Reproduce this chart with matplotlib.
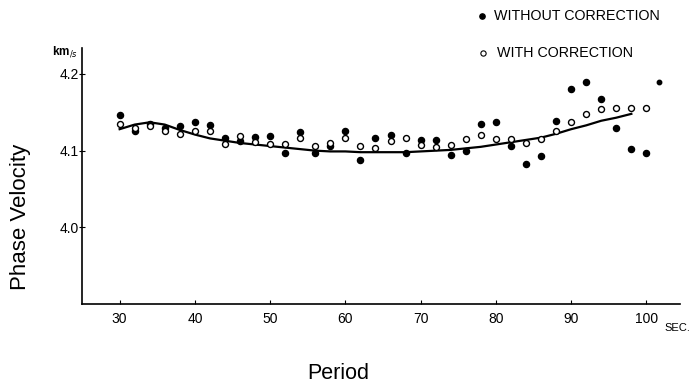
"""
Phase velocity vs period, with and without correction
"""

import matplotlib
matplotlib.use("Agg")
import matplotlib.pyplot as plt

plt.rcParams["font.family"] = ["Liberation Sans", "DejaVu Sans"]

# ── data ─────────────────────────────────────────────────────
period = [30, 32, 34, 36, 38, 40, 42, 44, 46, 48, 50, 52, 54, 56, 58, 60, 62, 64,
          66, 68, 70, 72, 74, 76, 78, 80, 82, 84, 86, 88, 90, 92, 94, 96, 98, 100]

v_without = [4.146, 4.126, 4.135, 4.130, 4.132, 4.137, 4.133, 4.116, 4.113, 4.118,
             4.119, 4.097, 4.124, 4.097, 4.106, 4.125, 4.088, 4.117, 4.121, 4.097,
             4.114, 4.114, 4.094, 4.100, 4.135, 4.138, 4.106, 4.083, 4.093, 4.139,
             4.181, 4.190, 4.168, 4.130, 4.102, 4.097]
extra_period = [101.7]
extra_without = [4.189]

v_with = [4.135, 4.130, 4.132, 4.126, 4.122, 4.126, 4.125, 4.109, 4.119, 4.111,
          4.109, 4.109, 4.116, 4.106, 4.110, 4.117, 4.106, 4.103, 4.112, 4.117,
          4.108, 4.105, 4.107, 4.115, 4.120, 4.115, 4.115, 4.110, 4.115, 4.126,
          4.138, 4.148, 4.154, 4.155, 4.155, 4.155]

curve_period = period[:35]
curve_v = [4.128, 4.134, 4.137, 4.134, 4.127, 4.121, 4.116, 4.113, 4.110, 4.108,
           4.106, 4.104, 4.102, 4.100, 4.099, 4.099, 4.098, 4.098, 4.098, 4.098,
           4.099, 4.100, 4.101, 4.103, 4.105, 4.108, 4.111, 4.114, 4.117, 4.122,
           4.128, 4.133, 4.139, 4.143, 4.148]

x_ticks = [30, 40, 50, 60, 70, 80, 90, 100]
y_ticks = [4.0, 4.1, 4.2]
y_ticklabels = ["4.0", "4.1", "4.2"]

# ── plot ─────────────────────────────────────────────────────
W, H = 693, 385
fig = plt.figure(figsize=(W / 100, H / 100), dpi=100)
ax = fig.add_axes([82 / W, 1 - 304 / H, (679.5 - 82) / W, (304 - 48.3) / H])

ax.plot(curve_period, curve_v, color="black", linewidth=1.6, zorder=2)
ax.plot(period, v_without, "o", color="black", markersize=4.4, zorder=3)
ax.plot(extra_period, extra_without, "o", color="black", markersize=3.2, zorder=3)
ax.plot(period, v_with, "o", markerfacecolor="white", markeredgecolor="black",
        markeredgewidth=1.0, markersize=4.3, zorder=4)

ax.set_xlim(25, 104.4)
ax.set_ylim(3.9, 4.2335)
ax.spines["top"].set_visible(False)
ax.spines["right"].set_visible(False)
ax.spines["left"].set_linewidth(1.2)
ax.spines["bottom"].set_linewidth(1.2)

ax.set_xticks(x_ticks)
ax.set_yticks(y_ticks)
ax.set_yticklabels(y_ticklabels)
ax.tick_params(axis="x", direction="in", length=3, width=0.8, pad=6, labelsize=10)
ax.tick_params(axis="y", direction="inout", length=4, width=0.8, pad=0, labelsize=10)

# unit labels
fig.text(52 / W, 1 - 54 / H, r"km$_{/s}$", fontsize=8.5, fontweight="bold", va="baseline")
fig.text(664 / W, 1 - 331 / H, "SEC.", fontsize=8, va="baseline")

# axis labels
fig.text(338.7 / W, 1 - 379.3 / H, "Period", fontsize=15.5, ha="center", va="baseline")
fig.text(21 / W, 1 - 216.7 / H, "Phase Velocity", fontsize=16, rotation=90,
         ha="center", va="center")

# legend (drawn by hand at top right)
fig.add_artist(plt.Line2D([482.3 / W], [1 - 15.7 / H], marker="o", color="black",
                          markersize=3.8, linestyle="none"))
fig.text(494 / W, 1 - 15.7 / H, "WITHOUT CORRECTION", fontsize=10.3, va="center")
fig.add_artist(plt.Line2D([483.3 / W], [1 - 53.3 / H], marker="o", markerfacecolor="white",
                          markeredgecolor="black", markeredgewidth=0.8,
                          markersize=3.8, linestyle="none"))
fig.text(496.7 / W, 1 - 53.3 / H, "WITH CORRECTION", fontsize=10.3, va="center")

fig.savefig("out.png", dpi=100)
